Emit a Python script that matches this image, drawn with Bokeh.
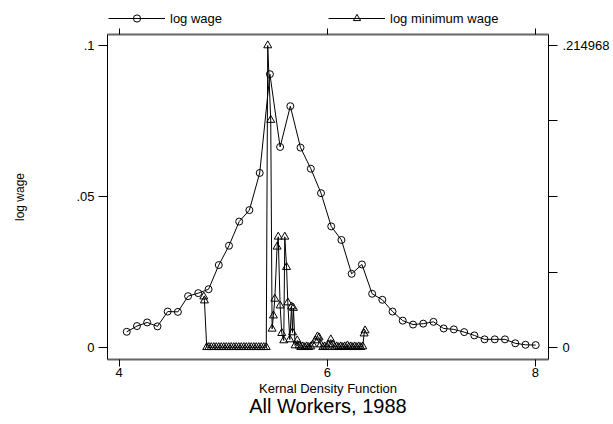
from bokeh.plotting import figure
from bokeh.models import Range1d, LinearAxis, FixedTicker, Legend, LegendItem
from bokeh.layouts import column
from bokeh.embed import file_html
from bokeh.resources import INLINE

# log wage kernel density (left axis)
wage_x = [4.074, 4.172, 4.270, 4.369, 4.467, 4.565, 4.663, 4.761, 4.860, 4.958,
          5.056, 5.154, 5.252, 5.351, 5.449, 5.547, 5.645, 5.743, 5.842, 5.940,
          6.038, 6.136, 6.234, 6.333, 6.431, 6.529, 6.627, 6.725, 6.824, 6.922,
          7.020, 7.118, 7.216, 7.315, 7.413, 7.511, 7.609, 7.707, 7.806, 7.904, 8.002]
wage_y = [0.0052, 0.0071, 0.0083, 0.0070, 0.0119, 0.0118, 0.0170, 0.0180, 0.0193, 0.0273,
          0.0337, 0.0417, 0.0455, 0.0578, 0.0905, 0.0664, 0.0799, 0.0662, 0.0592, 0.0511,
          0.0401, 0.0356, 0.0244, 0.0275, 0.0178, 0.0158, 0.0119, 0.0089, 0.0076, 0.0079,
          0.0085, 0.0063, 0.0060, 0.0051, 0.0040, 0.0027, 0.0027, 0.0027, 0.0014, 0.0009, 0.0008]

# log minimum wage kernel density (right axis)
minw_x = [4.814, 4.820, 4.842,
          4.862, 4.886, 4.910, 4.934, 4.958, 4.982, 5.006, 5.030, 5.054, 5.078, 5.102, 5.126,
          5.150, 5.174, 5.198, 5.222, 5.246, 5.270, 5.294, 5.318, 5.342, 5.366, 5.390, 5.414,
          5.428, 5.457, 5.470, 5.483, 5.496, 5.518, 5.529, 5.547, 5.563, 5.582, 5.592, 5.609,
          5.621, 5.640, 5.657, 5.666, 5.675, 5.691, 5.712, 5.729,
          5.745, 5.765, 5.784, 5.803, 5.822, 5.842, 5.861, 5.885, 5.906, 5.921, 5.938, 5.957,
          5.976, 5.995, 6.014, 6.034, 6.053, 6.072, 6.091, 6.110, 6.130, 6.149, 6.168, 6.194,
          6.207, 6.226, 6.245, 6.264, 6.283, 6.303, 6.322, 6.341, 6.354, 6.363]
minw_y = [0.0362, 0.0334, 0.0002,
          0.0002, 0.0002, 0.0002, 0.0002, 0.0002, 0.0002, 0.0002, 0.0002, 0.0002, 0.0002, 0.0002, 0.0002,
          0.0002, 0.0002, 0.0002, 0.0002, 0.0002, 0.0002, 0.0002, 0.0002, 0.0002, 0.0002, 0.0002, 0.0002,
          0.214968, 0.1619, 0.0133, 0.0227, 0.0346, 0.0717, 0.0788, 0.0298, 0.0102, 0.0050, 0.0788, 0.0572,
          0.0320, 0.0057, 0.0291, 0.0107, 0.0281, 0.0014, 0.0050, 0.0014,
          0.0002, 0.0007, 0.0002, 0.0007, 0.0002, 0.0007, 0.0021, 0.0050, 0.0078, 0.0071, 0.0021, 0.0002,
          0.0007, 0.0002, 0.0021, 0.0057, 0.0021, 0.0002, 0.0007, 0.0002, 0.0007, 0.0002, 0.0007, 0.0014,
          0.0002, 0.0007, 0.0002, 0.0007, 0.0002, 0.0007, 0.0002, 0.0007, 0.0099, 0.0121]

x_ticks = [4, 6, 8]
left_ticks = [0, 0.05, 0.1]
left_labels = ["0", ".05", ".1"]
right_max = 0.214968
right_labels = ["0", "", "", "", ".214968"]
series_names = ["log wage", "log minimum wage"]
title_text = "All Workers, 1988"

FONT = "Liberation Sans"
LEG_H = 28

# ---------- legend strip (series drawn outside its ranges; only the legend shows) ----------
lg = figure(width=613, height=LEG_H, output_backend="svg", toolbar_location=None,
            x_range=Range1d(100, 101), y_range=Range1d(100, 101),
            x_axis_location=None, y_axis_location=None,
            min_border_left=0, min_border_right=0, min_border_top=0, min_border_bottom=0)
lg.grid.visible = False
lg.outline_line_color = None
lg.border_fill_color = "white"
dl1 = lg.line(wage_x, wage_y, line_color="black", line_width=1)
ds1 = lg.scatter(wage_x, wage_y, marker="circle", size=7, line_color="black", fill_color=None)
dl2 = lg.line(minw_x, minw_y, line_color="black", line_width=1)
ds2 = lg.scatter(minw_x, minw_y, marker="triangle", size=8, line_color="black", fill_color=None)
legend = Legend(items=[LegendItem(label=series_names[0], renderers=[dl1, ds1]),
                       LegendItem(label=series_names[1], renderers=[dl2, ds2])],
                orientation="horizontal", location=(1, 1), glyph_width=57, glyph_height=18,
                label_standoff=5, label_width=150, spacing=8, padding=0, margin=0,
                border_line_color=None, background_fill_alpha=0,
                label_text_font=FONT, label_text_font_size="13px", label_text_color="black")
lg.add_layout(legend, "center")

# ---------- main plot ----------
p = figure(width=613, height=424 - LEG_H, output_backend="svg", toolbar_location=None,
           x_range=Range1d(3.889, 8.125), y_range=Range1d(-0.00397, 0.10364),
           min_border_left=107, min_border_right=65, min_border_top=34 - LEG_H, min_border_bottom=65)
p.extra_y_ranges = {"right": Range1d(-0.00397 * right_max / 0.1, 0.10364 * right_max / 0.1)}
p.grid.visible = False
p.outline_line_color = None
p.background_fill_color = "white"
p.border_fill_color = "white"

l1 = p.line(wage_x, wage_y, line_color="black", line_width=1)
s1 = p.scatter(wage_x, wage_y, marker="circle", size=7, line_color="black", fill_color=None, line_width=1)
l2 = p.line(minw_x, minw_y, line_color="black", line_width=1, y_range_name="right")
s2 = p.scatter(minw_x, minw_y, marker="triangle", size=8, line_color="black", fill_color=None,
               line_width=1, y_range_name="right")

# bottom axis
xa = p.xaxis[0]
xa.ticker = FixedTicker(ticks=x_ticks)
xa.major_tick_out = 7
xa.major_tick_in = 0
xa.minor_tick_out = 0
xa.minor_tick_in = 0
xa.major_label_standoff = 1
xa.axis_label = "Kernal Density Function"
xa.axis_label_standoff = 1
xa.axis_label_text_font_style = "normal"
xa.axis_label_text_font_size = "13px"
xa.axis_label_text_font = FONT
xa.axis_label_text_color = "black"
xa.major_label_text_font = FONT
xa.major_label_text_font_size = "13px"
xa.major_label_text_color = "black"
xa.axis_line_color = "#666666"
xa.axis_line_width = 2

# chart title, set as the label of a bare second bottom axis
tax = LinearAxis(ticker=FixedTicker(ticks=[]), axis_line_color=None, major_tick_out=0, major_tick_in=0,
                 minor_tick_out=0, minor_tick_in=0, major_label_standoff=0,
                 axis_label=title_text, axis_label_standoff=-4, axis_label_text_font=FONT,
                 axis_label_text_font_size="20px", axis_label_text_font_style="normal",
                 axis_label_text_color="black")
p.add_layout(tax, "below")

# left axis
ya = p.yaxis[0]
ya.ticker = FixedTicker(ticks=left_ticks)
ya.major_label_overrides = dict(zip(left_ticks, left_labels))
ya.major_tick_out = 9
ya.major_tick_in = 0
ya.minor_tick_out = 0
ya.minor_tick_in = 0
ya.major_label_standoff = 4
ya.axis_label = series_names[0]
ya.axis_label_standoff = 46
ya.axis_label_text_font_style = "normal"
ya.axis_label_text_font_size = "12px"
ya.axis_label_text_font = FONT
ya.axis_label_text_color = "black"
ya.major_label_text_font = FONT
ya.major_label_text_font_size = "13px"
ya.major_label_text_color = "black"
ya.axis_line_color = "black"

# right axis
rticks = [right_max * k / 4 for k in range(5)]
ra = LinearAxis(y_range_name="right", ticker=FixedTicker(ticks=rticks),
                major_label_overrides=dict(zip(rticks, right_labels)),
                major_tick_out=9, major_tick_in=0, minor_tick_out=0, minor_tick_in=0,
                major_label_standoff=5, major_label_text_font=FONT, major_label_text_font_size="13px",
                major_label_text_color="black", axis_line_color="black")
p.add_layout(ra, "right")

# top axis (ticks only)
ta = LinearAxis(ticker=FixedTicker(ticks=x_ticks), major_tick_out=6, major_tick_in=0,
                minor_tick_out=0, minor_tick_in=0, major_label_text_font_size="0px",
                major_label_standoff=0, axis_line_color="#666666", axis_line_width=2)
p.add_layout(ta, "above")

open("out.html", "w").write(file_html(column(lg, p, spacing=0), INLINE))
